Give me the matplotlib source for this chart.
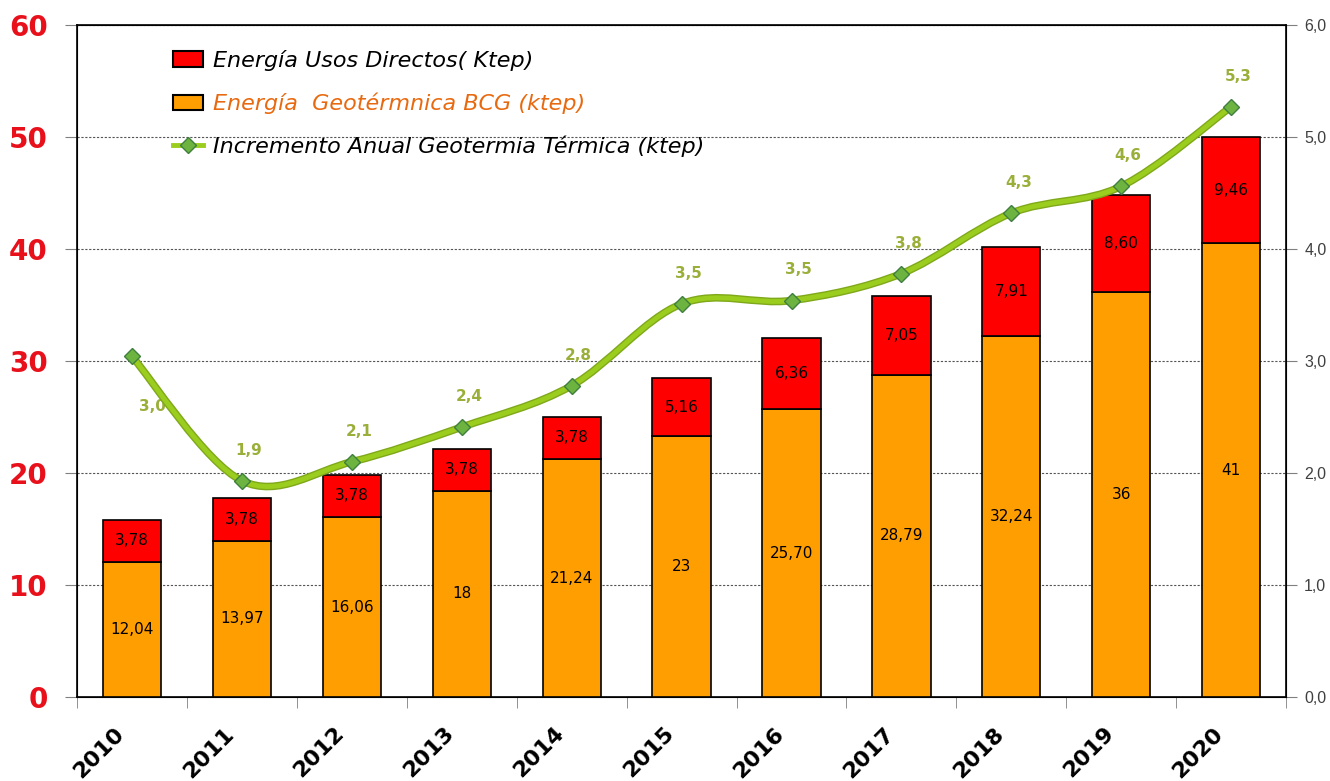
import numpy as np
import matplotlib.pyplot as plt
import matplotlib.transforms as mtransforms
from matplotlib.path import Path
from matplotlib.patches import PathPatch
from matplotlib.lines import Line2D
from matplotlib.patches import Patch

years = ["2010", "2011", "2012", "2013", "2014", "2015", "2016", "2017", "2018", "2019", "2020"]
bcg = [12.04, 13.97, 16.06, 18.4, 21.24, 23.3, 25.70, 28.79, 32.24, 36.2, 40.5]
bcg_labels = ["12,04", "13,97", "16,06", "18", "21,24", "23", "25,70", "28,79", "32,24", "36", "41"]
directos = [3.78, 3.78, 3.78, 3.78, 3.78, 5.16, 6.36, 7.05, 7.91, 8.60, 9.46]
directos_labels = ["3,78", "3,78", "3,78", "3,78", "3,78", "5,16", "6,36", "7,05", "7,91", "8,60", "9,46"]
incremento = [3.04, 1.93, 2.10, 2.41, 2.78, 3.51, 3.54, 3.78, 4.32, 4.56, 5.27]
incremento_labels = ["3,0", "1,9", "2,1", "2,4", "2,8", "3,5", "3,5", "3,8", "4,3", "4,6", "5,3"]

ORANGE = "#FF9E00"
RED = "#FF0000"
LINE_GREEN = "#9ACD1E"
MARK_GREEN = "#6DB33F"
LBL_GREEN = "#9AAF3A"

fig = plt.figure(figsize=(13.3, 7.81), dpi=100)
ax = fig.add_axes([0.058, 0.1076, 0.909, 0.8604])
x = np.arange(len(years))

ax.bar(x, bcg, width=0.53, color=ORANGE, edgecolor="black", linewidth=1.2, zorder=3)
ax.bar(x, directos, bottom=bcg, width=0.53, color=RED, edgecolor="black", linewidth=1.2, zorder=3)
for i in range(len(years)):
    ax.text(x[i], bcg[i] / 2, bcg_labels[i], ha="center", va="center", fontsize=11, zorder=4)
    ax.text(x[i], bcg[i] + directos[i] / 2, directos_labels[i], ha="center", va="center", fontsize=11, zorder=4)

ax.set_xlim(-0.5, len(years) - 0.5)
ax.set_ylim(0, 60)
ax.set_yticks(np.arange(0, 61, 10))
ax.tick_params(axis="y", labelsize=20, labelcolor="#E8101A", length=9, color="gray", direction="out", pad=12)
for t in ax.get_yticklabels():
    t.set_fontweight("bold")
ax.grid(axis="y", color="#555555", linestyle=(0, (2, 1.5)), linewidth=0.8, zorder=0)

ax.set_xticks(x)
ax.set_xticklabels(years, rotation=45, ha="right", rotation_mode="anchor", fontsize=16, fontweight="bold")
ax.tick_params(axis="x", which="major", length=0, pad=19)
shift = mtransforms.ScaledTranslation(-0.18, 0, fig.dpi_scale_trans)
for t in ax.get_xticklabels():
    t.set_transform(t.get_transform() + shift)
ax.set_xticks(np.arange(-0.5, len(years), 1), minor=True)
ax.tick_params(axis="x", which="minor", length=8, color="gray")
for s in ax.spines.values():
    s.set_linewidth(1.2)

ax2 = ax.twinx()
ax2.set_ylim(0, 6)
rticks = np.arange(0, 6.1, 1)
ax2.set_yticks(rticks)
ax2.set_yticklabels([("%.1f" % v).replace(".", ",") for v in rticks])
ax2.tick_params(axis="y", labelsize=11.5, labelcolor="#404040", length=8, color="gray", pad=5)
for t in ax2.get_yticklabels():
    t.set_family("Liberation Sans")

# smoothed line (Catmull-Rom as cubic bezier through the data points)
pts = np.column_stack([x, incremento]).astype(float)
verts = [tuple(pts[0])]
codes = [Path.MOVETO]
n = len(pts)
for i in range(n - 1):
    p0 = pts[i - 1] if i > 0 else pts[i]
    p1 = pts[i]
    p2 = pts[i + 1]
    p3 = pts[i + 2] if i + 2 < n else pts[i + 1]
    c1 = p1 + (p2 - p0) / 6
    c2 = p2 - (p3 - p1) / 6
    verts += [tuple(c1), tuple(c2), tuple(p2)]
    codes += [Path.CURVE4] * 3
path = Path(verts, codes)
ax2.add_patch(PathPatch(path, facecolor="none", edgecolor="#7FA81A", linewidth=5.5, zorder=5))
ax2.add_patch(PathPatch(path, facecolor="none", edgecolor=LINE_GREEN, linewidth=3.5, zorder=5))
ax2.plot(x, incremento, linestyle="none", marker="D", markersize=8, markerfacecolor=MARK_GREEN,
         markeredgecolor="#3F7F3F", markeredgewidth=1, zorder=6)
for i in range(n):
    if i == 0:
        ax2.annotate(incremento_labels[i], (x[i], incremento[i]), xytext=(15, -36), textcoords="offset points",
                     ha="center", va="center", fontsize=11, fontweight="bold", color=LBL_GREEN)
    else:
        ax2.annotate(incremento_labels[i], (x[i], incremento[i]), xytext=(5, 22), textcoords="offset points",
                     ha="center", va="center", fontsize=11, fontweight="bold", color=LBL_GREEN)

handles = [
    Patch(facecolor=RED, edgecolor="black", linewidth=1.5),
    Patch(facecolor=ORANGE, edgecolor="black", linewidth=1.5),
    Line2D([0], [0], color=LINE_GREEN, linewidth=3.5, marker="D", markersize=8,
           markerfacecolor=MARK_GREEN, markeredgecolor="#3F7F3F"),
]
labels = ["Energía Usos Directos( Ktep)", "Energía  Geotérmnica BCG (ktep)",
          "Incremento Anual Geotermia Térmica (ktep)"]
leg = ax2.legend(handles, labels, loc="upper left", bbox_to_anchor=(0.072, 0.976), frameon=False,
                 prop={"size": 16, "style": "italic"}, labelspacing=0.97, handlelength=1.35,
                 handletextpad=0.45, borderaxespad=0)
leg.get_texts()[1].set_color("#E86A10")
leg.set_zorder(10)

fig.savefig("out.png", dpi=100)
